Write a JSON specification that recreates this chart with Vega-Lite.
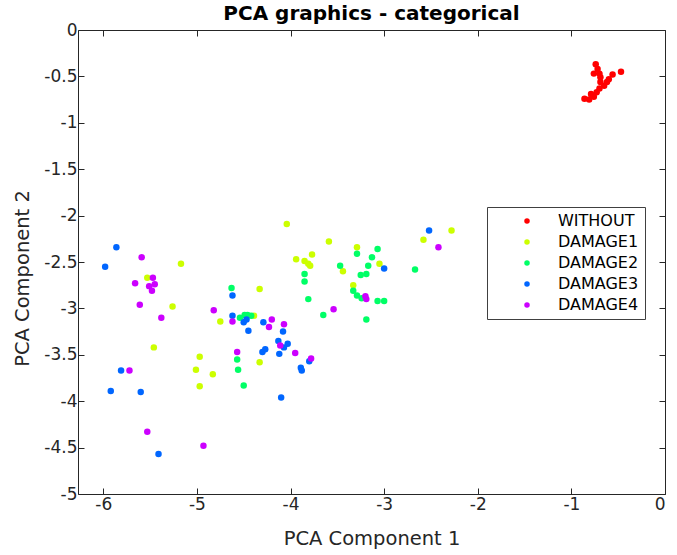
{
  "$schema": "https://vega.github.io/schema/vega-lite/v6.json",
  "width": 587,
  "height": 464,
  "autosize": {"type": "none"},
  "padding": {"left": 78, "top": 30, "right": 12, "bottom": 61},
  "background": "white",
  "title": {
    "text": "PCA graphics - categorical",
    "font": "DejaVu Sans",
    "fontSize": 20,
    "fontWeight": "bold",
    "color": "#000000",
    "anchor": "middle",
    "baseline": "alphabetic",
    "offset": 9,
    "dy": 28
  },
  "config": {
    "view": {"stroke": null},
    "axis": {
      "grid": false,
      "domainColor": "#262626",
      "domainWidth": 1,
      "tickColor": "#262626",
      "tickSize": -6,
      "labelFont": "DejaVu Sans",
      "labelFontSize": 17,
      "labelColor": "#262626",
      "titleFont": "DejaVu Sans",
      "titleFontSize": 19.5,
      "titleFontWeight": "normal",
      "titleColor": "#262626"
    }
  },
  "data": {
    "values": [
      {"pc1": -0.74, "pc2": -0.37, "group": "WITHOUT"},
      {"pc1": -0.72, "pc2": -0.42, "group": "WITHOUT"},
      {"pc1": -0.76, "pc2": -0.47, "group": "WITHOUT"},
      {"pc1": -0.70, "pc2": -0.47, "group": "WITHOUT"},
      {"pc1": -0.69, "pc2": -0.51, "group": "WITHOUT"},
      {"pc1": -0.47, "pc2": -0.45, "group": "WITHOUT"},
      {"pc1": -0.56, "pc2": -0.48, "group": "WITHOUT"},
      {"pc1": -0.60, "pc2": -0.53, "group": "WITHOUT"},
      {"pc1": -0.62, "pc2": -0.56, "group": "WITHOUT"},
      {"pc1": -0.65, "pc2": -0.60, "group": "WITHOUT"},
      {"pc1": -0.70, "pc2": -0.63, "group": "WITHOUT"},
      {"pc1": -0.73, "pc2": -0.67, "group": "WITHOUT"},
      {"pc1": -0.79, "pc2": -0.69, "group": "WITHOUT"},
      {"pc1": -0.76, "pc2": -0.72, "group": "WITHOUT"},
      {"pc1": -0.86, "pc2": -0.74, "group": "WITHOUT"},
      {"pc1": -0.81, "pc2": -0.75, "group": "WITHOUT"},
      {"pc1": -0.69, "pc2": -0.56, "group": "WITHOUT"},
      {"pc1": -5.53, "pc2": -2.67, "group": "DAMAGE1"},
      {"pc1": -5.17, "pc2": -2.52, "group": "DAMAGE1"},
      {"pc1": -4.04, "pc2": -2.09, "group": "DAMAGE1"},
      {"pc1": -5.26, "pc2": -2.98, "group": "DAMAGE1"},
      {"pc1": -5.46, "pc2": -3.42, "group": "DAMAGE1"},
      {"pc1": -4.97, "pc2": -3.52, "group": "DAMAGE1"},
      {"pc1": -5.01, "pc2": -3.66, "group": "DAMAGE1"},
      {"pc1": -4.83, "pc2": -3.71, "group": "DAMAGE1"},
      {"pc1": -4.97, "pc2": -3.84, "group": "DAMAGE1"},
      {"pc1": -4.75, "pc2": -3.14, "group": "DAMAGE1"},
      {"pc1": -4.39, "pc2": -3.08, "group": "DAMAGE1"},
      {"pc1": -4.33, "pc2": -2.79, "group": "DAMAGE1"},
      {"pc1": -4.33, "pc2": -3.58, "group": "DAMAGE1"},
      {"pc1": -3.94, "pc2": -2.47, "group": "DAMAGE1"},
      {"pc1": -3.85, "pc2": -2.49, "group": "DAMAGE1"},
      {"pc1": -3.81, "pc2": -2.52, "group": "DAMAGE1"},
      {"pc1": -3.79, "pc2": -2.54, "group": "DAMAGE1"},
      {"pc1": -3.77, "pc2": -2.42, "group": "DAMAGE1"},
      {"pc1": -3.59, "pc2": -2.28, "group": "DAMAGE1"},
      {"pc1": -3.44, "pc2": -2.60, "group": "DAMAGE1"},
      {"pc1": -3.29, "pc2": -2.34, "group": "DAMAGE1"},
      {"pc1": -3.05, "pc2": -2.52, "group": "DAMAGE1"},
      {"pc1": -3.33, "pc2": -2.75, "group": "DAMAGE1"},
      {"pc1": -2.58, "pc2": -2.26, "group": "DAMAGE1"},
      {"pc1": -2.28, "pc2": -2.16, "group": "DAMAGE1"},
      {"pc1": -4.63, "pc2": -2.78, "group": "DAMAGE2"},
      {"pc1": -4.54, "pc2": -3.10, "group": "DAMAGE2"},
      {"pc1": -4.49, "pc2": -3.07, "group": "DAMAGE2"},
      {"pc1": -4.46, "pc2": -3.07, "group": "DAMAGE2"},
      {"pc1": -4.42, "pc2": -3.08, "group": "DAMAGE2"},
      {"pc1": -4.57, "pc2": -3.55, "group": "DAMAGE2"},
      {"pc1": -4.56, "pc2": -3.66, "group": "DAMAGE2"},
      {"pc1": -4.50, "pc2": -3.83, "group": "DAMAGE2"},
      {"pc1": -3.85, "pc2": -2.63, "group": "DAMAGE2"},
      {"pc1": -3.85, "pc2": -2.71, "group": "DAMAGE2"},
      {"pc1": -3.81, "pc2": -2.90, "group": "DAMAGE2"},
      {"pc1": -3.65, "pc2": -3.07, "group": "DAMAGE2"},
      {"pc1": -3.47, "pc2": -2.54, "group": "DAMAGE2"},
      {"pc1": -3.29, "pc2": -2.41, "group": "DAMAGE2"},
      {"pc1": -3.07, "pc2": -2.36, "group": "DAMAGE2"},
      {"pc1": -3.13, "pc2": -2.45, "group": "DAMAGE2"},
      {"pc1": -3.17, "pc2": -2.54, "group": "DAMAGE2"},
      {"pc1": -3.25, "pc2": -2.64, "group": "DAMAGE2"},
      {"pc1": -3.19, "pc2": -2.63, "group": "DAMAGE2"},
      {"pc1": -3.33, "pc2": -2.81, "group": "DAMAGE2"},
      {"pc1": -3.29, "pc2": -2.86, "group": "DAMAGE2"},
      {"pc1": -3.24, "pc2": -2.89, "group": "DAMAGE2"},
      {"pc1": -3.07, "pc2": -2.92, "group": "DAMAGE2"},
      {"pc1": -3.00, "pc2": -2.92, "group": "DAMAGE2"},
      {"pc1": -3.19, "pc2": -3.12, "group": "DAMAGE2"},
      {"pc1": -2.67, "pc2": -2.58, "group": "DAMAGE2"},
      {"pc1": -5.86, "pc2": -2.34, "group": "DAMAGE3"},
      {"pc1": -5.98, "pc2": -2.55, "group": "DAMAGE3"},
      {"pc1": -5.81, "pc2": -3.67, "group": "DAMAGE3"},
      {"pc1": -5.92, "pc2": -3.89, "group": "DAMAGE3"},
      {"pc1": -5.60, "pc2": -3.90, "group": "DAMAGE3"},
      {"pc1": -5.41, "pc2": -4.57, "group": "DAMAGE3"},
      {"pc1": -4.62, "pc2": -2.86, "group": "DAMAGE3"},
      {"pc1": -4.62, "pc2": -3.08, "group": "DAMAGE3"},
      {"pc1": -4.50, "pc2": -3.15, "group": "DAMAGE3"},
      {"pc1": -4.47, "pc2": -3.12, "group": "DAMAGE3"},
      {"pc1": -4.45, "pc2": -3.24, "group": "DAMAGE3"},
      {"pc1": -4.29, "pc2": -3.15, "group": "DAMAGE3"},
      {"pc1": -4.08, "pc2": -3.25, "group": "DAMAGE3"},
      {"pc1": -4.13, "pc2": -3.35, "group": "DAMAGE3"},
      {"pc1": -4.03, "pc2": -3.38, "group": "DAMAGE3"},
      {"pc1": -4.07, "pc2": -3.42, "group": "DAMAGE3"},
      {"pc1": -4.30, "pc2": -3.47, "group": "DAMAGE3"},
      {"pc1": -4.27, "pc2": -3.44, "group": "DAMAGE3"},
      {"pc1": -4.12, "pc2": -3.49, "group": "DAMAGE3"},
      {"pc1": -3.89, "pc2": -3.64, "group": "DAMAGE3"},
      {"pc1": -3.88, "pc2": -3.67, "group": "DAMAGE3"},
      {"pc1": -3.80, "pc2": -3.57, "group": "DAMAGE3"},
      {"pc1": -4.10, "pc2": -3.96, "group": "DAMAGE3"},
      {"pc1": -3.00, "pc2": -2.57, "group": "DAMAGE3"},
      {"pc1": -2.52, "pc2": -2.16, "group": "DAMAGE3"},
      {"pc1": -5.59, "pc2": -2.45, "group": "DAMAGE4"},
      {"pc1": -5.66, "pc2": -2.73, "group": "DAMAGE4"},
      {"pc1": -5.47, "pc2": -2.67, "group": "DAMAGE4"},
      {"pc1": -5.51, "pc2": -2.76, "group": "DAMAGE4"},
      {"pc1": -5.45, "pc2": -2.74, "group": "DAMAGE4"},
      {"pc1": -5.48, "pc2": -2.81, "group": "DAMAGE4"},
      {"pc1": -5.61, "pc2": -2.96, "group": "DAMAGE4"},
      {"pc1": -5.38, "pc2": -3.10, "group": "DAMAGE4"},
      {"pc1": -5.72, "pc2": -3.67, "group": "DAMAGE4"},
      {"pc1": -5.53, "pc2": -4.33, "group": "DAMAGE4"},
      {"pc1": -4.93, "pc2": -4.48, "group": "DAMAGE4"},
      {"pc1": -4.82, "pc2": -3.02, "group": "DAMAGE4"},
      {"pc1": -4.62, "pc2": -3.14, "group": "DAMAGE4"},
      {"pc1": -4.57, "pc2": -3.47, "group": "DAMAGE4"},
      {"pc1": -4.20, "pc2": -3.12, "group": "DAMAGE4"},
      {"pc1": -4.23, "pc2": -3.20, "group": "DAMAGE4"},
      {"pc1": -4.07, "pc2": -3.17, "group": "DAMAGE4"},
      {"pc1": -4.11, "pc2": -3.40, "group": "DAMAGE4"},
      {"pc1": -3.95, "pc2": -3.48, "group": "DAMAGE4"},
      {"pc1": -3.78, "pc2": -3.54, "group": "DAMAGE4"},
      {"pc1": -3.54, "pc2": -3.01, "group": "DAMAGE4"},
      {"pc1": -3.20, "pc2": -2.87, "group": "DAMAGE4"},
      {"pc1": -3.19, "pc2": -2.90, "group": "DAMAGE4"},
      {"pc1": -2.42, "pc2": -2.34, "group": "DAMAGE4"}
    ]
  },
  "layer": [
    {
      "mark": {"type": "point", "filled": true, "size": 42, "opacity": 1, "strokeWidth": 0},
      "encoding": {
        "x": {
          "field": "pc1", "type": "quantitative",
          "scale": {"domain": [-6.27, 0], "nice": false, "zero": false},
          "axis": {
            "orient": "bottom",
            "values": [-6, -5, -4, -3, -2, -1, 0],
            "labelExpr": "toString(datum.value)",
            "labelPadding": 8,
            "title": "PCA Component 1",
            "titleBaseline": "alphabetic",
            "titleAnchor": "middle",
            "titleY": 50
          }
        },
        "y": {
          "field": "pc2", "type": "quantitative",
          "scale": {"domain": [-5, 0], "nice": false, "zero": false},
          "axis": {
            "orient": "left",
            "values": [0, -0.5, -1, -1.5, -2, -2.5, -3, -3.5, -4, -4.5, -5],
            "labelExpr": "toString(datum.value)",
            "labelPadding": 7,
            "title": "PCA Component 2",
            "titleBaseline": "alphabetic",
            "titleAnchor": "middle",
            "titleX": -50,
            "titleY": 248
          }
        },
        "color": {
          "field": "group", "type": "nominal",
          "scale": {
            "domain": ["WITHOUT", "DAMAGE1", "DAMAGE2", "DAMAGE3", "DAMAGE4"],
            "range": ["#ff0000", "#ccff00", "#00ff66", "#0066ff", "#cc00ff"]
          },
          "legend": {
            "title": null,
            "orient": "none",
            "legendX": 409,
            "legendY": 177,
            "direction": "vertical",
            "strokeColor": "#404040",
            "fillColor": "#ffffff",
            "padding": 6,
            "symbolType": "circle",
            "symbolSize": 30,
            "symbolStrokeWidth": 0,
            "symbolOffset": 26,
            "labelOffset": 23,
            "labelFont": "DejaVu Sans",
            "labelFontSize": 16,
            "labelColor": "#000000",
            "rowPadding": 5
          }
        }
      }
    },
    {
      "mark": {"type": "point", "opacity": 0},
      "encoding": {
        "x": {
          "field": "pc1", "type": "quantitative",
          "axis": {"orient": "top", "values": [-6, -5, -4, -3, -2, -1, 0], "labels": false, "title": null}
        },
        "y": {
          "field": "pc2", "type": "quantitative",
          "axis": {"orient": "right", "values": [0, -0.5, -1, -1.5, -2, -2.5, -3, -3.5, -4, -4.5, -5], "labels": false, "title": null}
        }
      }
    }
  ],
  "resolve": {"axis": {"x": "independent", "y": "independent"}}
}
